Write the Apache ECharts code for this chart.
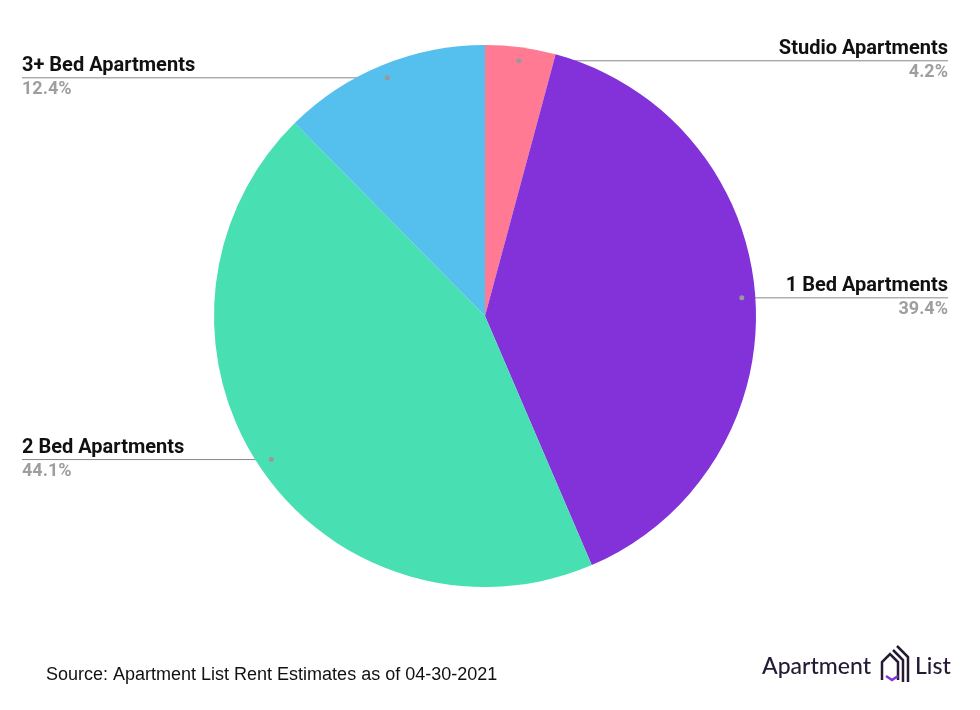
<!DOCTYPE html>
<html>
<head>
<meta charset="utf-8">
<script src="https://cdn.jsdelivr.net/npm/echarts@6/dist/echarts.min.js"></script>
<style>
  html, body { margin: 0; padding: 0; background: #fff; }
  #chart { width: 980px; height: 710px; }
</style>
</head>
<body>
<div id="chart"></div>
<script>
const categories = ['Studio Apartments', '1 Bed Apartments', '2 Bed Apartments', '3+ Bed Apartments'];
const shares = [4.2, 39.4, 44.1, 12.4];
const colors = ['#ff7a92', '#8232d8', '#48dfb3', '#55bfee'];

const cx = 485, cy = 316, R = 271;
const total = shares.reduce((a, b) => a + b, 0);
// anchor point of each label line, at 95% radius on the slice's mid angle
let acc = 0;
const anchors = shares.map(v => {
  let mid = (acc + v / 2) / total * Math.PI * 2;
  acc += v;
  return [cx + 0.95 * R * Math.sin(mid), cy - 0.95 * R * Math.cos(mid)];
});

let chart = echarts.init(document.getElementById('chart'));
let option = {
  color: colors,
  graphic: [
    { type: 'text', left: 46, top: 666, style: { text: 'Source: Apartment List Rent Estimates as of 04-30-2021', font: '18px Arial, "Liberation Sans"', fill: '#111' } },
    { type: 'text', left: 762, top: 655, style: { text: 'Apartment', font: '500 23px Lato, "Noto Sans"', fill: '#241a33' } },
    { type: 'polyline', shape: { points: [[882, 680], [882, 662], [890, 654], [898, 662], [898, 680]] }, style: { stroke: '#241a33', lineWidth: 2.5, fill: null } },
    { type: 'polyline', shape: { points: [[886, 676], [892, 680], [898, 676]] }, style: { stroke: '#8232d8', lineWidth: 2.5, fill: null } },
    { type: 'polyline', shape: { points: [[893, 650], [903, 660], [903, 682]] }, style: { stroke: '#241a33', lineWidth: 2.5, fill: null } },
    { type: 'polyline', shape: { points: [[897, 646], [908, 657], [908, 682]] }, style: { stroke: '#241a33', lineWidth: 2.5, fill: null } },
    { type: 'text', left: 915, top: 655, style: { text: 'List', font: '500 23px Lato, "Noto Sans"', fill: '#241a33' } }
  ].concat(anchors.map(a => ({ type: 'circle', z: 100, shape: { cx: a[0], cy: a[1], r: 2.5 }, style: { fill: '#999' } }))),
  series: [{
    type: 'pie',
    center: [cx, cy],
    radius: R,
    startAngle: 90,
    clockwise: true,
    label: {
      show: true,
      position: 'outside',
      formatter: p => '{n|' + p.name + '}\n{v|' + p.value.toFixed(1) + '%}',
      rich: {
        n: { fontFamily: 'Roboto', fontWeight: 'bold', fontSize: 20, color: '#111', lineHeight: 26 },
        v: { fontFamily: 'Roboto', fontWeight: 'bold', fontSize: 18, color: '#9e9e9e', lineHeight: 22 }
      }
    },
    labelLayout: p => {
      let a = anchors[p.dataIndex];
      let right = a[0] > cx;
      let ex = right ? 948 : 22;
      return {
        x: ex, y: a[1] - 1,
        align: right ? 'right' : 'left',
        verticalAlign: 'middle',
        labelLinePoints: [[a[0], a[1]], [ex, a[1]], [ex, a[1]]]
      };
    },
    labelLine: {
      show: true,
      lineStyle: { color: '#888', width: 1 }
    },
    itemStyle: { borderColor: '#fff', borderWidth: 0 },
    data: categories.map((c, i) => ({ name: c, value: shares[i] }))
  }]
};
chart.setOption(option);
</script>
</body>
</html>
